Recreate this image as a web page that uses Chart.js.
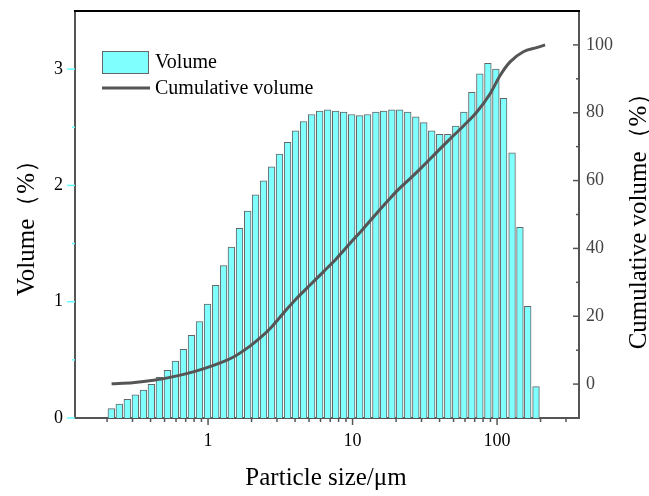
<!DOCTYPE html>
<html>
<head>
<meta charset="utf-8">
<script src="https://cdn.jsdelivr.net/npm/chart.js@4.4.1/dist/chart.umd.min.js"></script>
<style>
  body { margin: 0; background: #fff; }
  canvas { display: block; }
</style>
</head>
<body>
<canvas id="psdChart" width="649" height="496"></canvas>
<script>
// particle size classes (um) used for the histogram bars
const sizes = [0.214, 0.243, 0.276, 0.314, 0.357, 0.405, 0.46, 0.523, 0.594, 0.675,
  0.767, 0.872, 0.991, 1.13, 1.28, 1.45, 1.65, 1.88, 2.13, 2.42,
  2.75, 3.12, 3.55, 4.03, 4.58, 5.21, 5.92, 6.72, 7.64, 8.68,
  9.86, 11.2, 12.7, 14.5, 16.4, 18.7, 21.2, 24.1, 27.4, 31.1,
  35.3, 40.1, 45.6, 51.8, 58.9, 66.9, 76, 86.4, 98.1, 111,
  127, 144, 163, 186];

// volume (%) per class
const volume = [0.08, 0.12, 0.16, 0.20, 0.24, 0.29, 0.35, 0.41, 0.49, 0.59,
  0.71, 0.83, 0.98, 1.14, 1.31, 1.47, 1.63, 1.78, 1.92, 2.04,
  2.16, 2.27, 2.37, 2.47, 2.55, 2.61, 2.64, 2.65, 2.64, 2.63,
  2.61, 2.60, 2.61, 2.63, 2.64, 2.65, 2.65, 2.63, 2.59, 2.54,
  2.47, 2.44, 2.44, 2.51, 2.63, 2.80, 2.96, 3.05, 3.00, 2.75,
  2.28, 1.64, 0.96, 0.27];

// cumulative volume curve
const cumSizes = [0.215, 0.30, 0.42, 0.575, 0.79, 1.09, 1.5, 1.95, 2.29, 2.69,
  3.32, 4.11, 5.08, 6.28, 7.78, 9.61, 11.9, 14.7, 18.2, 20.8,
  24.9, 30.1, 38.3, 47.3, 58.5, 72.4, 89.5, 105, 123, 152,
  188, 215];
const cumVolume = [0.1, 0.4, 1.1, 2.2, 3.6, 5.5, 8.0, 11.2, 13.6, 16.4,
  20.9, 25.3, 29.2, 33.1, 37.1, 41.5, 45.9, 50.4, 54.8, 57.4,
  60.5, 63.9, 68.4, 72.3, 76.1, 80.2, 85.6, 91.0, 95.0, 98.0,
  99.2, 100];

// tick labels
const xTickLabels = [1, 10, 100];
const yTickLabels = [0, 1, 2, 3];
const y2TickLabels = [0, 20, 40, 60, 80, 100];

const serif = "'Liberation Serif', 'Times New Roman', serif";
Chart.defaults.font.family = serif;
Chart.defaults.color = "#000";

// axis tick marks, frame, titles and legend
const decorPlugin = {
  id: "decor",
  afterDraw(chart) {
    const { ctx, chartArea: a } = chart;
    const { x, y, y2 } = chart.scales;

    function seg(x1, y1, x2, y2_) {
      ctx.beginPath();
      ctx.moveTo(x1, y1);
      ctx.lineTo(x2, y2_);
      ctx.stroke();
    }

    ctx.save();

    // top frame line
    ctx.strokeStyle = "#000";
    ctx.lineWidth = 2;
    seg(a.left - 1, a.top, a.right + 1, a.top);

    // x ticks (log minor ticks)
    ctx.strokeStyle = "#555";
    ctx.lineWidth = 1.5;
    for (let dec = 0.1; dec <= 100; dec *= 10) {
      for (let m = 1; m <= 9; m++) {
        const v = dec * m;
        if (v < x.min || v > x.max) continue;
        const px = x.getPixelForValue(v);
        seg(px, a.bottom, px, a.bottom + (m === 1 ? 7 : 4));
      }
    }

    // left ticks (cyan, outward)
    ctx.strokeStyle = "#6ff";
    for (let v = 0; v <= 3; v += 0.5) {
      const py = y.getPixelForValue(v);
      seg(a.left - (v % 1 === 0 ? 8 : 3), py, a.left, py);
    }

    // right ticks (grey, inward)
    ctx.strokeStyle = "#555";
    for (let v = 0; v <= 100; v += 10) {
      const py = y2.getPixelForValue(v);
      seg(a.right - (v % 20 === 0 ? 6 : 3), py, a.right, py);
    }

    // axis titles
    ctx.fillStyle = "#000";
    ctx.font = "25px " + serif;
    ctx.textAlign = "center";
    ctx.textBaseline = "middle";
    ctx.fillText("Particle size/μm", 326, 478);

    ctx.save();
    ctx.translate(27, 222);
    ctx.rotate(-Math.PI / 2);
    ctx.fillText("Volume（%）", 0, 0);
    ctx.restore();

    ctx.save();
    ctx.translate(639, 215);
    ctx.rotate(-Math.PI / 2);
    ctx.fillText("Cumulative volume（%）", 0, 0);
    ctx.restore();

    // legend
    ctx.fillStyle = "#80ffff";
    ctx.strokeStyle = "#666";
    ctx.lineWidth = 1;
    ctx.fillRect(102.5, 51.5, 46, 22);
    ctx.strokeRect(102.5, 51.5, 46, 22);
    ctx.strokeStyle = "#555";
    ctx.lineWidth = 3;
    seg(102, 88, 150, 88);
    ctx.fillStyle = "#000";
    ctx.font = "20px " + serif;
    ctx.textAlign = "left";
    ctx.fillText("Volume", 155, 63);
    ctx.fillText("Cumulative volume", 155, 89);

    ctx.restore();
  },
};

// fixed axis sizes so the plot area sits where the reference has it
function fixVertical(width) {
  return (s) => {
    s.width = width;
    s.paddingTop = 0;
    s.paddingBottom = 0;
  };
}

const ctx = document.getElementById("psdChart");

new Chart(ctx, {
  type: "bar",
  data: {
    datasets: [
      {
        type: "line",
        label: "Cumulative volume",
        data: cumSizes.map((s, i) => ({ x: s, y: cumVolume[i] })),
        yAxisID: "y2",
        borderColor: "#555",
        borderWidth: 3,
        pointRadius: 0,
        cubicInterpolationMode: "monotone",
        order: 0,
      },
      {
        label: "Volume",
        data: sizes.map((s, i) => ({ x: s, y: volume[i] })),
        yAxisID: "y",
        backgroundColor: "#80ffff",
        borderColor: "#666",
        borderWidth: 1,
        barThickness: 6.7,
        order: 1,
      },
    ],
  },
  options: {
    responsive: false,
    animation: false,
    devicePixelRatio: 1,
    layout: { padding: { top: 11, left: 0, right: 0, bottom: 0 } },
    plugins: {
      legend: { display: false },
      tooltip: { enabled: false },
    },
    scales: {
      x: {
        type: "logarithmic",
        min: 0.12,
        max: 369,
        offset: false,
        z: 1,
        grid: { display: false, drawTicks: false, offset: false },
        border: { display: true, color: "#555", width: 2 },
        afterBuildTicks: (s) => {
          s.ticks = xTickLabels.map((v) => ({ value: v }));
        },
        ticks: {
          autoSkip: false,
          maxRotation: 0,
          padding: 12,
          font: { size: 18 },
          callback: (v) => String(v),
        },
        afterFit: (s) => {
          s.height = 78;
          s.paddingLeft = 0;
          s.paddingRight = 0;
        },
      },
      y: {
        type: "linear",
        position: "left",
        min: 0,
        max: 3.5,
        grid: { display: false, drawTicks: false },
        border: { display: true, color: "#555", width: 2 },
        afterBuildTicks: (s) => {
          s.ticks = yTickLabels.map((v) => ({ value: v }));
        },
        ticks: { padding: 12, font: { size: 18 } },
        afterFit: fixVertical(75),
      },
      y2: {
        type: "linear",
        position: "right",
        min: -10,
        max: 110,
        grid: { display: false, drawTicks: false },
        border: { display: true, color: "#555", width: 2 },
        afterBuildTicks: (s) => {
          s.ticks = y2TickLabels.map((v) => ({ value: v }));
        },
        ticks: { padding: 7, color: "#444", font: { size: 18 } },
        afterFit: fixVertical(70),
      },
    },
  },
  plugins: [decorPlugin],
});
</script>
</body>
</html>
